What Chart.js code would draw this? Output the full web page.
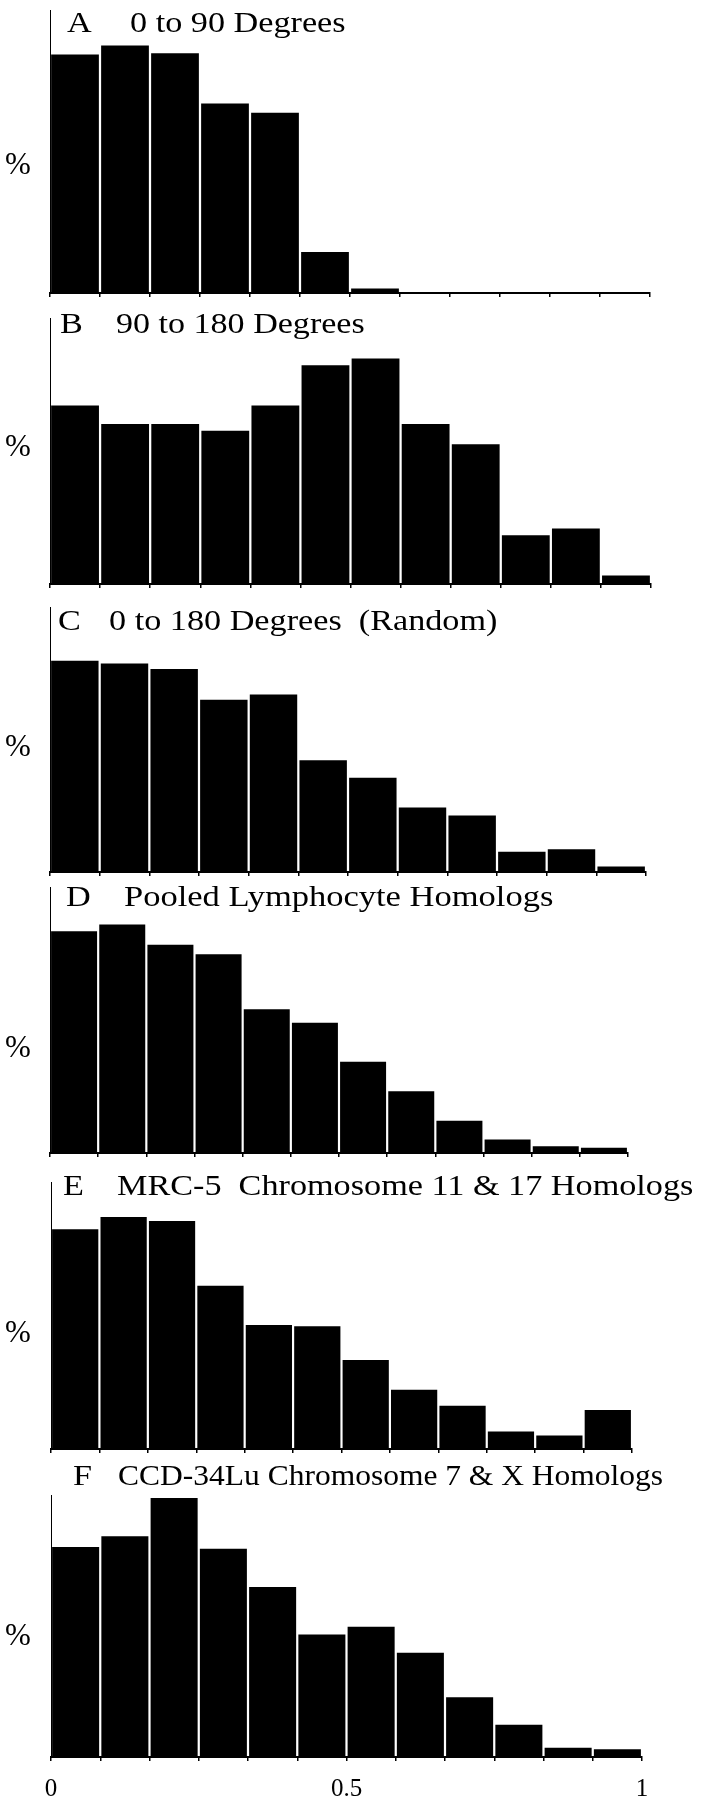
<!DOCTYPE html>
<html>
<head>
<meta charset="utf-8">
<title>Histograms A-F</title>
<script src="https://cdn.jsdelivr.net/npm/chart.js@4"></script>
<style>
  html, body { margin: 0; padding: 0; background: #fff; }
  #wrap { position: relative; width: 701px; height: 1800px; overflow: hidden; }
  #wrap canvas { position: absolute; left: 0; }
</style>
</head>
<body>
<div id="wrap"></div>
<script>
// 12 bins over 0..1
const bins = ['0.00', '0.08', '0.17', '0.25', '0.33', '0.42', '0.50', '0.58', '0.67', '0.75', '0.83', '0.92'];

const panelLetters = ['A', 'B', 'C', 'D', 'E', 'F'];
const panelTitles = [
  '0 to 90 Degrees',
  '90 to 180 Degrees',
  '0 to 180 Degrees  (Random)',
  'Pooled Lymphocyte Homologs',
  'MRC-5  Chromosome 11 & 17 Homologs',
  'CCD-34Lu Chromosome 7 & X Homologs'
];

// percent of pairs per bin
const valuesA = [20.9, 21.7, 21.0, 16.6, 15.8, 3.6, 0.4, 0, 0, 0, 0, 0];
const valuesB = [10.6, 9.5, 9.5, 9.1, 10.6, 13.0, 13.4, 9.5, 8.3, 2.9, 3.3, 0.5];
const valuesC = [15.7, 15.5, 15.1, 12.8, 13.2, 8.3, 7.0, 4.8, 4.2, 1.5, 1.7, 0.4];
const valuesD = [16.5, 17.0, 15.5, 14.8, 10.7, 9.7, 6.8, 4.6, 2.4, 1.0, 0.5, 0.4];
const valuesE = [16.3, 17.2, 16.9, 12.1, 9.2, 9.1, 6.6, 4.4, 3.2, 1.3, 1.0, 2.9];
const valuesF = [13.7, 14.4, 16.9, 13.6, 11.1, 8.0, 8.5, 6.8, 3.9, 2.1, 0.6, 0.5];
const allValues = [valuesA, valuesB, valuesC, valuesD, valuesE, valuesF];

// top of each y axis, in %
const yMax = [24.8, 15.8, 19.7, 19.8, 19.8, 17.1];

// x axis tick labels (bottom panel only)
const xTicks = [0, 0.5, 1];

// page layout: canvas top/height, axis top/bottom, left/right edge, title placement
const layout = [
  { top: 0,    height: 305, axisTop: 10,   base: 293,  left: 50, right: 650, lx: 67, tx: 130, ty: 32,   sx: 1.14, pct: 0.45 },
  { top: 305,  height: 291, axisTop: 318,  base: 584,  left: 50, right: 651, lx: 60, tx: 116, ty: 333,  sx: 1.135, pct: 0.51 },
  { top: 596,  height: 288, axisTop: 607,  base: 872,  left: 50, right: 646, lx: 58, tx: 109, ty: 630,  sx: 1.14, pct: 0.47 },
  { top: 876,  height: 289, axisTop: 887,  base: 1153, left: 50, right: 628, lx: 66, tx: 124, ty: 906,  sx: 1.15, pct: 0.39 },
  { top: 1165, height: 296, axisTop: 1182, base: 1449, left: 51, right: 632, lx: 63, tx: 117, ty: 1195, sx: 1.14, pct: 0.43 },
  { top: 1461, height: 339, axisTop: 1495, base: 1757, left: 51, right: 642, lx: 73, tx: 118, ty: 1485, sx: 1.05, pct: 0.46 }
];

const serif = '"Liberation Serif", "Times New Roman", serif';
const wrap = document.getElementById('wrap');

function titlePlugin(i) {
  const L = layout[i];
  return {
    id: 'panelTitle',
    afterDraw(chart) {
      const c = chart.ctx;
      c.save();
      c.fillStyle = '#000';
      c.font = '30px ' + serif;
      c.textBaseline = 'alphabetic';
      c.textAlign = 'left';
      [[panelLetters[i], L.lx, 1.14], [panelTitles[i], L.tx, L.sx]].forEach(([str, x, sx]) => {
        c.save();
        c.translate(x, L.ty - L.top);
        c.scale(sx, 1);   // lettering in the figure is a bit wide
        c.fillText(str, 0, 0);
        c.restore();
      });
      c.restore();
    }
  };
}

allValues.forEach((vals, i) => {
  const L = layout[i];
  const last = i === allValues.length - 1;
  const xHeight = last ? 8 : 12;
  const canvas = document.createElement('canvas');
  canvas.width = 701;
  canvas.height = L.height;
  canvas.style.top = L.top + 'px';
  wrap.appendChild(canvas);

  const scales = {
    x: {
      type: 'category',
      offset: true,
      grid: { display: true, offset: true, drawOnChartArea: false, drawTicks: true, tickLength: 4, color: '#000', lineWidth: 1.5 },
      border: { display: true, color: '#000', width: 2 },
      ticks: { display: false },
      afterFit: s => { s.height = xHeight; s.paddingLeft = 0; s.paddingRight = 0; }
    },
    y: {
      type: 'linear',
      min: 0,
      max: yMax[i],
      grid: { display: false },
      border: { display: true, color: '#000', width: 1 },
      afterBuildTicks: s => { s.ticks = [{ value: yMax[i] * L.pct }]; },
      ticks: {
        callback: () => '%',
        crossAlign: 'far',
        color: '#000',
        font: { family: serif, size: 31 }
      },
      afterFit: s => { s.width = L.left - 5; s.paddingTop = 0; s.paddingBottom = 0; }
    }
  };

  if (last) {
    scales.x2 = {
      type: 'linear',
      position: 'bottom',
      weight: 1,
      offset: false,
      min: 0,
      max: 1,
      afterBuildTicks: s => { s.ticks = xTicks.map(v => ({ value: v })); },
      grid: { display: false, drawTicks: false },
      border: { display: false },
      ticks: { color: '#000', padding: 9, font: { family: serif, size: 25 }, callback: v => String(v) },
      afterFit: s => {
        s.height = L.height - (L.base - L.top) - xHeight;
        s.paddingLeft = 0;
        s.paddingRight = 0;
      }
    };
  }

  new Chart(canvas.getContext('2d'), {
    type: 'bar',
    data: {
      labels: bins,
      datasets: [{
        label: panelTitles[i],
        data: vals,
        backgroundColor: '#000',
        borderWidth: 0,
        barPercentage: 0.955,
        categoryPercentage: 1
      }]
    },
    options: {
      responsive: false,
      animation: false,
      devicePixelRatio: 1,
      layout: { padding: { left: 5, right: 701 - L.right, top: L.axisTop - L.top, bottom: L.top + L.height - L.base - xHeight - (last ? L.height - (L.base - L.top) - xHeight : 0) } },
      plugins: {
        legend: { display: false },
        tooltip: { enabled: false },
        title: { display: false }
      },
      scales: scales
    },
    plugins: [titlePlugin(i)]
  });
});
</script>
</body>
</html>
